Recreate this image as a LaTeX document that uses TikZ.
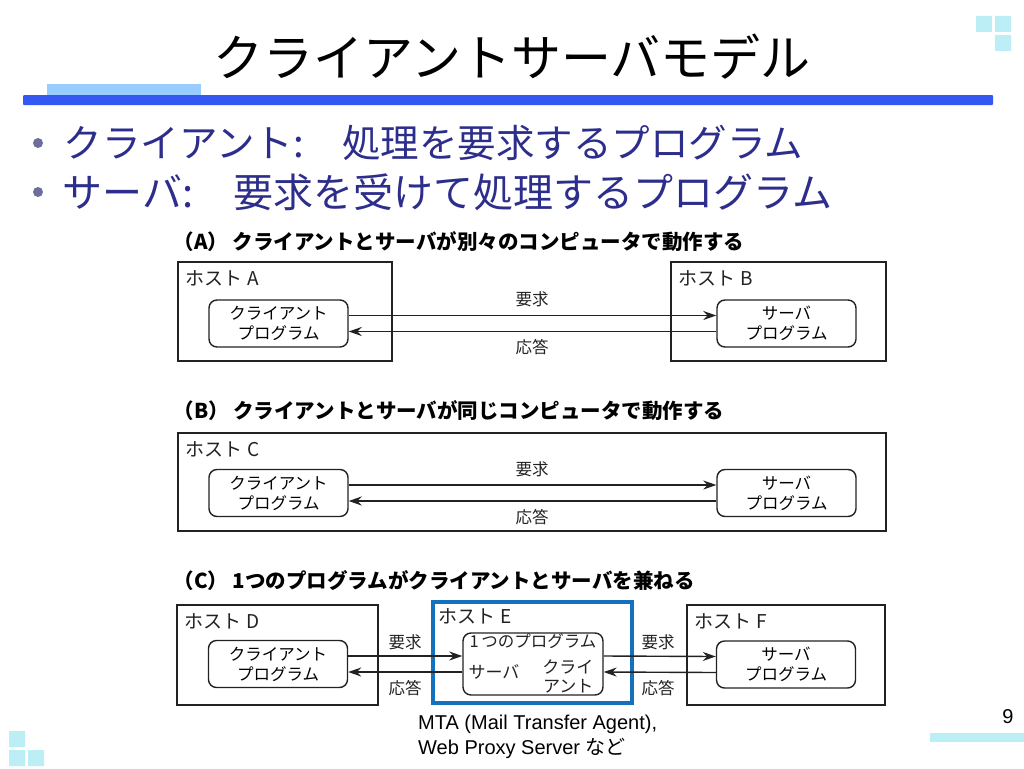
\documentclass[tikz,border=0pt]{standalone}
\usepackage{fontspec}
\setmainfont{Noto Sans CJK JP}
\newfontfamily\latfont{Liberation Sans}
\usetikzlibrary{arrows.meta,positioning}
\definecolor{ink}{HTML}{222222}
\definecolor{navy}{HTML}{2D2D8C}
\definecolor{dotgray}{HTML}{6E6E9E}
\definecolor{deco}{HTML}{BCEFF5}
\definecolor{band}{HTML}{3558F2}
\definecolor{skyband}{HTML}{99CCFF}
\definecolor{hostblue}{HTML}{1570BE}
\tikzset{>={Stealth[length=13pt,width=9pt]},host/.style={draw=ink,line width=1.4pt,inner sep=0pt},prog/.style={draw=ink,line width=1.4pt,rounded corners=8pt,minimum width=139pt,minimum height=47pt,inner sep=0pt,align=center,font=\fontsize{16.5}{20}\selectfont},arr/.style={->,line width=1.4pt,ink},lbl/.style={font=\fontsize{16.5}{20}\selectfont,text=ink},hostlbl/.style={font=\fontsize{19}{22}\selectfont,text=ink},head/.style={font=\bfseries\fontsize{20.5}{24}\selectfont,anchor=west},bul/.style={text=navy,anchor=west},dot/.style={circle,fill=dotgray,inner sep=0pt,minimum size=10pt}}

\begin{document}
\begin{tikzpicture}[x=1pt,y=-1pt]
\useasboundingbox (0,0) rectangle (1024,768);
\fill[deco] (976,16) rectangle (992,32) (995,16) rectangle (1011,32) (995,35) rectangle (1011,51);
\fill[deco] (9,731) rectangle (25,747) (9,750) rectangle (25,766) (28,750) rectangle (44,766);
\fill[deco] (930,733) rectangle (1024,742);
\fill[skyband] (47,84) rectangle (201,96);
\fill[band,rounded corners=1pt] (23,95) rectangle (993,105);
\node[font=\fontsize{50}{60}\selectfont] (title) at (512,57) {クライアントサーバモデル};
\node[dot] (d1) at (38,143) {};
\node[dot] (d2) at (38,192) {};
\node[bul,font=\fontsize{38.5}{46}\selectfont] (b1) at (60,143) {クライアント:　処理を要求するプログラム};
\node[bul,font=\fontsize{40}{48}\selectfont] (b2) at (59,192) {サーバ:　要求を受けて処理するプログラム};

\node[head] (ha) at (170,242) {（A） クライアントとサーバが別々のコンピュータで動作する};
\node[host,minimum width=214pt,minimum height=99pt] (hosta) at (285,311.5) {};
\node[host,minimum width=215pt,minimum height=99pt] (hostb) at (778.5,311.5) {};
\node[hostlbl,below right=6pt and 5pt of hosta.north west] (la) {ホスト A};
\node[hostlbl,below right=6pt and 5pt of hostb.north west] (lb) {ホスト B};
\node[prog] (clienta) at (278.5,323.5) {クライアント\\プログラム};
\node[prog] (serverb) at (786.5,323.5) {サーバ\\プログラム};
\draw[arr] ([yshift=8pt]clienta.east) -- ([yshift=8pt]serverb.west);
\draw[arr] ([yshift=-8pt]serverb.west) -- ([yshift=-8pt]clienta.east);
\node[lbl] (reqa) at (532,299) {要求};
\node[lbl] (resa) at (532,347) {応答};

\node[head] (hb) at (170,411) {（B） クライアントとサーバが同じコンピュータで動作する};
\node[host,minimum width=708pt,minimum height=98pt] (hostc) at (532,482) {};
\node[hostlbl,below right=6pt and 5pt of hostc.north west] (lc) {ホスト C};
\node[prog] (clientc) at (278.5,493) {クライアント\\プログラム};
\node[prog] (serverc) at (786.5,493) {サーバ\\プログラム};
\draw[arr] ([yshift=8pt]clientc.east) -- ([yshift=8pt]serverc.west);
\draw[arr] ([yshift=-8pt]serverc.west) -- ([yshift=-8pt]clientc.east);
\node[lbl] (reqc) at (532,469) {要求};
\node[lbl] (resc) at (532,517) {応答};

\node[head] (hc) at (170,581) {（C） 1つのプログラムがクライアントとサーバを兼ねる};
\node[host,minimum width=201pt,minimum height=100pt] (hostd) at (277.5,655) {};
\node[host,draw=hostblue,line width=3.5pt,minimum width=199pt,minimum height=101pt] (hoste) at (532.5,652.5) {};
\node[host,minimum width=198pt,minimum height=100pt] (hostf) at (786,655) {};
\node[hostlbl,below right=6pt and 5pt of hostd.north west] (ld) {ホスト D};
\node[hostlbl,below right=5pt and 4pt of hoste.north west] (le) {ホスト E};
\node[hostlbl,below right=6pt and 5pt of hostf.north west] (lf) {ホスト F};
\node[prog] (clientd) at (278,664) {クライアント\\プログラム};
\node[prog,minimum width=140pt,minimum height=62pt] (mid) at (533,664) {};
\node[prog] (serverf) at (786,664.5) {サーバ\\プログラム};
\node[lbl,font=\fontsize{16.5}{20}\selectfont,below=-2pt of mid.north] (one) {1\,つのプログラム};
\node[lbl,font=\fontsize{17}{20}\selectfont,anchor=west] (msrv) at (465,672) {サーバ};
\node[lbl,font=\fontsize{17}{19}\selectfont,align=right,anchor=east] (mcli) at (597,676) {クライ\\アント};
\draw[arr] ([yshift=8pt]clientd.east) -- ([yshift=8pt]mid.west);
\draw[arr] ([yshift=-8pt]mid.west) -- ([yshift=-8pt]clientd.east);
\draw[arr] ([yshift=8pt]mid.east) -- ([yshift=8pt]serverf.west);
\draw[arr] ([yshift=-8pt]serverf.west) -- ([yshift=-8pt]mid.east);
\node[lbl] (reqd) at (405,642) {要求};
\node[lbl] (resd) at (405,688) {応答};
\node[lbl] (reqf) at (658,642) {要求};
\node[lbl] (resf) at (658,688) {応答};

\node[font=\latfont\fontsize{20}{25}\selectfont,align=left,anchor=north west,inner sep=0pt] (note) at (418,715) {MTA (Mail Transfer Agent),\\Web Proxy Server {\rmfamily など}};
\node[font=\latfont\fontsize{20}{24}\selectfont] (pnum) at (1008,717) {9};
\end{tikzpicture}
\end{document}
